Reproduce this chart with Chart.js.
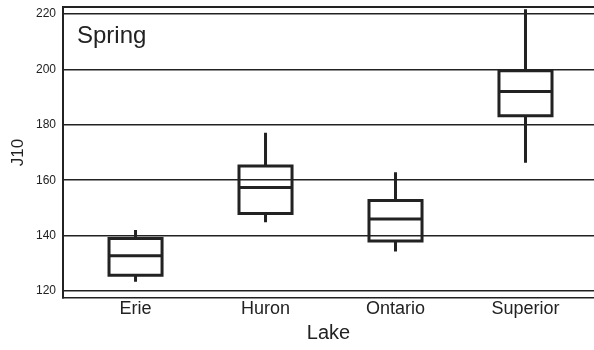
<!DOCTYPE html>
<html>
<head>
<meta charset="utf-8">
<script src="https://cdn.jsdelivr.net/npm/chart.js@4"></script>
<style>
  html, body { margin: 0; padding: 0; background: #ffffff; }
  #wrap { width: 594px; height: 350px; }
</style>
</head>
<body>
<div id="wrap"><canvas id="c" width="594" height="350"></canvas></div>
<script>
// J10 by lake, spring samples: five-number summaries
const lakes = ['Erie', 'Huron', 'Ontario', 'Superior'];
const whiskerLow  = [123.4, 144.8, 134.3, 166.3];
const quartile1   = [125.7, 148.0, 138.1, 183.3];
const medians     = [132.7, 157.4, 146.0, 192.0];
const quartile3   = [139.0, 165.1, 152.7, 199.5];
const whiskerHigh = [142.0, 177.1, 162.9, 221.7];
const yTicks = [120, 140, 160, 180, 200, 220];
const panelLabel = 'Spring';

const ink = '#222222';
const fontFamily = "'Liberation Sans', Arial, sans-serif";
const halfBox = 0.204;

// One polyline per lake: box outline, upper whisker, lower whisker, median
function boxPath(i) {
  const x = i + 1;
  const gap = { x: x, y: null };
  return [
    { x: x, y: quartile1[i] },
    { x: x + halfBox, y: quartile1[i] },
    { x: x + halfBox, y: quartile3[i] },
    { x: x - halfBox, y: quartile3[i] },
    { x: x - halfBox, y: quartile1[i] },
    { x: x, y: quartile1[i] },
    gap,
    { x: x, y: quartile3[i] },
    { x: x, y: whiskerHigh[i] },
    gap,
    { x: x, y: whiskerLow[i] },
    { x: x, y: quartile1[i] },
    gap,
    { x: x - halfBox, y: medians[i] },
    { x: x + halfBox, y: medians[i] }
  ];
}

const datasets = lakes.map((name, i) => ({
  label: name,
  data: boxPath(i),
  borderColor: ink,
  borderWidth: 3,
  borderJoinStyle: 'miter',
  borderCapStyle: 'butt',
  pointRadius: 0,
  pointHoverRadius: 0,
  fill: false,
  spanGaps: false,
  tension: 0
}));

const panelLabelPlugin = {
  id: 'panelLabel',
  afterDraw(chart) {
    const { ctx, chartArea } = chart;
    ctx.save();
    ctx.fillStyle = ink;
    ctx.font = '24px ' + fontFamily;
    ctx.textAlign = 'left';
    ctx.textBaseline = 'alphabetic';
    ctx.fillText(panelLabel, chartArea.left + 14, chartArea.top + 36);
    ctx.restore();
  }
};

// Keep the plot frame fixed: no extra room reserved for edge labels
function noEdgePadding(scale) {
  scale.paddingTop = 0;
  scale.paddingBottom = 0;
  scale.paddingLeft = 0;
  scale.paddingRight = 0;
}

new Chart(document.getElementById('c'), {
  type: 'line',
  data: { datasets },
  plugins: [panelLabelPlugin],
  options: {
    responsive: false,
    animation: false,
    devicePixelRatio: 1,
    layout: { padding: 0 },
    plugins: {
      legend: { display: false },
      tooltip: { enabled: false },
      title: { display: false }
    },
    events: [],
    scales: {
      x: {
        type: 'linear',
        position: 'bottom',
        min: 0.442,
        max: 4.527,
        afterBuildTicks(scale) {
          scale.ticks = lakes.map((_, i) => ({ value: i + 1 }));
        },
        afterFit(scale) { scale.height = 52; noEdgePadding(scale); },
        ticks: {
          autoSkip: false,
          maxRotation: 0,
          padding: 0,
          color: ink,
          font: { family: fontFamily, size: 18 },
          callback: (v) => lakes[Math.round(v) - 1]
        },
        grid: { display: false, drawTicks: false },
        border: { display: true, color: ink, width: 1.5 },
        title: {
          display: true,
          text: 'Lake',
          color: ink,
          font: { family: fontFamily, size: 20 },
          padding: { top: 0, bottom: 5 }
        }
      },
      xTop: {
        type: 'linear',
        position: 'top',
        min: 0.442,
        max: 4.527,
        afterFit(scale) { scale.height = 7; noEdgePadding(scale); },
        ticks: { display: false },
        grid: { display: false, drawTicks: false },
        border: { display: true, color: ink, width: 2 }
      },
      y: {
        type: 'linear',
        position: 'left',
        min: 117.5,
        max: 222.5,
        afterBuildTicks(scale) {
          scale.ticks = yTicks.map(v => ({ value: v }));
        },
        afterFit(scale) { scale.width = 63; noEdgePadding(scale); },
        ticks: {
          padding: 7,
          color: ink,
          font: { family: fontFamily, size: 12, lineHeight: 1 }
        },
        grid: { display: true, drawTicks: false, color: ink, lineWidth: 1.5 },
        border: { display: true, color: ink, width: 2 },
        title: {
          display: true,
          text: 'J10',
          color: ink,
          font: { family: fontFamily, size: 17 },
          padding: { top: 8, bottom: 0 }
        }
      }
    }
  }
});
</script>
</body>
</html>
